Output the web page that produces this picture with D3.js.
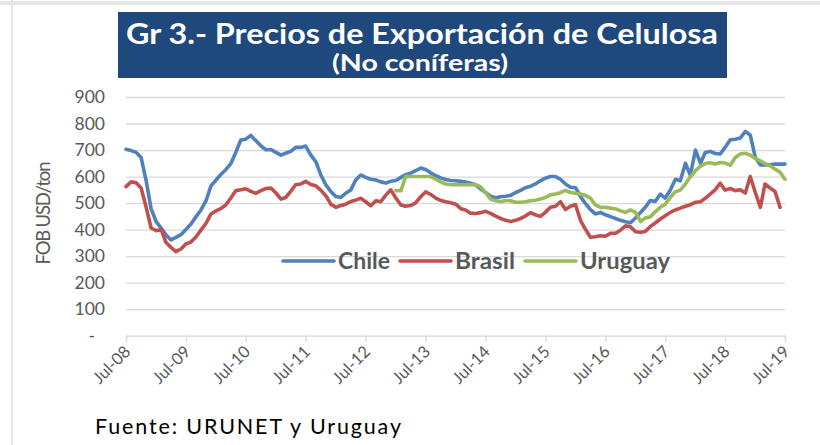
<!DOCTYPE html>
<html>
<head>
<meta charset="utf-8">
<script src="https://cdn.jsdelivr.net/npm/d3@7"></script>
<style>
  body { margin: 0; background: #fff; }
  svg { font-family: Lato, "Open Sans", sans-serif; display: block; }
</style>
</head>
<body>
<div id="chart"></div>
<script>
// monthly, Jul-08 .. Jul-19
const months = d3.timeMonth.range(new Date(2008, 6, 1), new Date(2019, 7, 1));
const tickLabels = ['Jul-08', 'Jul-09', 'Jul-10', 'Jul-11', 'Jul-12', 'Jul-13', 'Jul-14', 'Jul-15', 'Jul-16', 'Jul-17', 'Jul-18', 'Jul-19'];
const yTicks = [0, 100, 200, 300, 400, 500, 600, 700, 800, 900];

const chile = [703, 698, 691, 672, 584, 478, 430, 405, 381, 361, 371, 381, 400, 421, 449, 474, 509, 565, 587, 609, 626, 649, 691, 738, 741, 755,
  735, 716, 701, 702, 691, 681, 688, 695, 710, 710, 715, 682, 656, 607, 569, 544, 525, 521, 537, 549, 587, 606, 597, 590, 587, 580, 576,
  582, 585, 597, 607, 613, 622, 632, 627, 614, 603, 595, 589, 585, 584, 582, 579, 575, 569, 554, 540, 526, 520, 524, 526, 529, 540,
  548, 558, 563, 572, 584, 594, 600, 600, 590, 572, 560, 558, 524, 499, 475, 459, 465, 456, 449, 442, 435, 430, 426, 444, 465, 484, 510,
  506, 534, 519, 549, 590, 584, 650, 605, 700, 650, 690, 695, 687, 685, 710, 739, 741, 745, 770, 757, 672, 644, 644, 644, 647, 647, 647];

const brasil = [562, 580, 577, 557, 484, 406, 396, 400, 352, 333, 317, 327, 346, 353, 373, 398, 424, 459, 471, 480, 493, 519, 547, 550, 554, 544,
  537, 547, 555, 557, 538, 515, 521, 544, 569, 572, 582, 570, 565, 549, 528, 496, 484, 491, 496, 506, 511, 518, 505, 490, 509, 505, 530,
  550, 519, 493, 488, 491, 501, 524, 542, 533, 519, 510, 505, 501, 496, 479, 474, 462, 461, 464, 469, 461, 451, 442, 435, 431, 435,
  442, 451, 464, 456, 450, 465, 484, 488, 505, 476, 488, 494, 434, 402, 371, 373, 377, 375, 386, 386, 398, 414, 411, 392, 390, 393, 412,
  425, 440, 452, 465, 474, 481, 488, 494, 503, 505, 518, 534, 550, 575, 549, 555, 547, 550, 538, 600, 540, 484, 572, 557, 544, 484, null];

const uruguay = [null, null, null, null, null, null, null, null, null, null, null, null, null, null, null, null, null, null, null, null, null, null, null, null, null, null,
  null, null, null, null, null, null, null, null, null, null, null, null, null, null, null, null, null, null, null, null, null, null, null, null, null, null, null,
  null, 547, 547, 600, 600, 600, 600, 600, 600, 590, 580, 572, 569, 569, 569, 569, 569, 569, 562, 540, 515, 509, 506, 509, 509, 503,
  503, 505, 509, 511, 515, 521, 531, 534, 539, 548, 540, 537, 534, 529, 519, 493, 484, 484, 481, 478, 471, 465, 474, 465, 430, 444, 448,
  467, 484, 496, 521, 543, 549, 572, 599, 622, 639, 649, 652, 647, 653, 651, 643, 672, 685, 688, 681, 668, 659, 649, 641, 628, 616, 590];

const seriesNames = ['Chile', 'Brasil', 'Uruguay'];
const seriesColors = ['#4F81BD', '#C0504D', '#9BBB59'];

const width = 820,
    height = 445;

const svg = d3.select('#chart')
    .append('svg')
    .attr('width', width)
    .attr('height', height);

// frame lines of the original slide
svg.append('line')
    .attr('x1', 12).attr('x2', 12).attr('y1', 0).attr('y2', height)
    .attr('stroke', '#dedede').attr('stroke-width', 1.5);
svg.append('line')
    .attr('x1', 0).attr('x2', width).attr('y1', 3).attr('y2', 3)
    .attr('stroke', '#e6e6e6').attr('stroke-width', 4);

// title box
svg.append('rect')
    .attr('x', 118).attr('y', 12)
    .attr('width', 609).attr('height', 66)
    .attr('fill', '#1F497D');

svg.append('text')
    .attr('x', 422).attr('y', 44)
    .attr('text-anchor', 'middle')
    .attr('fill', '#fff')
    .attr('font-weight', 'bold')
    .attr('font-size', 28)
    .attr('textLength', 592)
    .attr('lengthAdjust', 'spacingAndGlyphs')
    .text('Gr 3.- Precios de Exportación de Celulosa');

svg.append('text')
    .attr('x', 420).attr('y', 71)
    .attr('text-anchor', 'middle')
    .attr('fill', '#fff')
    .attr('font-weight', 'bold')
    .attr('font-size', 23)
    .attr('textLength', 176)
    .attr('lengthAdjust', 'spacingAndGlyphs')
    .text('(No coníferas)');

const x = d3.scaleTime()
    .domain([months[0], months[months.length - 1]])
    .range([126, 785]);

const y = d3.scaleLinear()
    .domain([0, 900])
    .range([335.7, 97]);

// gridlines
svg.append('g')
    .attr('transform', 'translate(126,0)')
    .call(d3.axisLeft(y).tickValues(yTicks.slice(1)).tickSize(-659).tickFormat(''))
    .call(g => g.select('.domain').remove())
    .call(g => g.selectAll('line').attr('stroke', '#d9d9d9').attr('stroke-width', 1.3));

// y labels
const yAxis = svg.append('g')
    .attr('transform', 'translate(105,0)')
    .call(d3.axisLeft(y).tickValues(yTicks).tickSize(0).tickPadding(0)
        .tickFormat(d => d === 0 ? '-' : d))
    .call(g => g.select('.domain').remove());

yAxis.selectAll('text')
    .attr('fill', '#595959')
    .attr('font-size', 17.5)
    .attr('font-family', 'Lato, sans-serif')
    .attr('dx', d => d === 0 ? -10 : 0);

svg.append('text')
    .attr('transform', 'translate(50,213) rotate(-90)')
    .attr('text-anchor', 'middle')
    .attr('fill', '#595959')
    .attr('font-size', 18.5)
    .attr('textLength', 103)
    .text('FOB USD/ton');

// x axis
const tickDates = d3.range(0, months.length, 12).map(i => months[i]);

const xAxis = svg.append('g')
    .attr('transform', 'translate(0,335.7)')
    .call(d3.axisBottom(x).tickValues(tickDates).tickSize(6)
        .tickFormat((d, i) => tickLabels[i]));

xAxis.select('.domain').attr('stroke', '#d9d9d9').attr('stroke-width', 1.3);
xAxis.selectAll('.tick line').attr('stroke', '#d9d9d9').attr('stroke-width', 1.3);
xAxis.selectAll('.tick text')
    .attr('fill', '#595959')
    .attr('font-size', 16.5)
    .attr('font-family', 'Lato, sans-serif')
    .attr('text-anchor', 'end')
    .attr('x', 0).attr('y', 0).attr('dy', '0.35em')
    .attr('transform', 'translate(1,13) rotate(-45)');

// lines
const line = d3.line()
    .defined(d => d != null)
    .x((d, i) => x(months[i]))
    .y(d => y(d));

[chile, brasil, uruguay].forEach((series, i) => {
    svg.append('path')
        .datum(series)
        .attr('d', line)
        .attr('fill', 'none')
        .attr('stroke', seriesColors[i])
        .attr('stroke-width', 3.6)
        .attr('stroke-linejoin', 'round')
        .attr('stroke-linecap', 'round');
});

// legend
const legendX = [283, 400, 525];
const legendTextW = [52, 60, 90];

const legend = svg.selectAll('.legend')
    .data(seriesNames)
    .enter()
    .append('g')
    .attr('class', 'legend')
    .attr('transform', (d, i) => `translate(${legendX[i]}, 261)`);

legend.append('line')
    .attr('x1', 0).attr('x2', 51)
    .attr('stroke', (d, i) => seriesColors[i])
    .attr('stroke-width', 3.6)
    .attr('stroke-linecap', 'round');

legend.append('text')
    .attr('x', 55)
    .attr('dy', '0.36em')
    .attr('fill', '#595959')
    .attr('font-weight', 'bold')
    .attr('font-size', 22)
    .attr('textLength', (d, i) => legendTextW[i])
    .attr('lengthAdjust', 'spacingAndGlyphs')
    .text(d => d);

// source
svg.append('text')
    .attr('x', 95).attr('y', 434)
    .attr('fill', '#000')
    .attr('font-size', 21.5)
    .attr('textLength', 306)
    .attr('lengthAdjust', 'spacing')
    .text('Fuente: URUNET y Uruguay');
</script>
</body>
</html>
